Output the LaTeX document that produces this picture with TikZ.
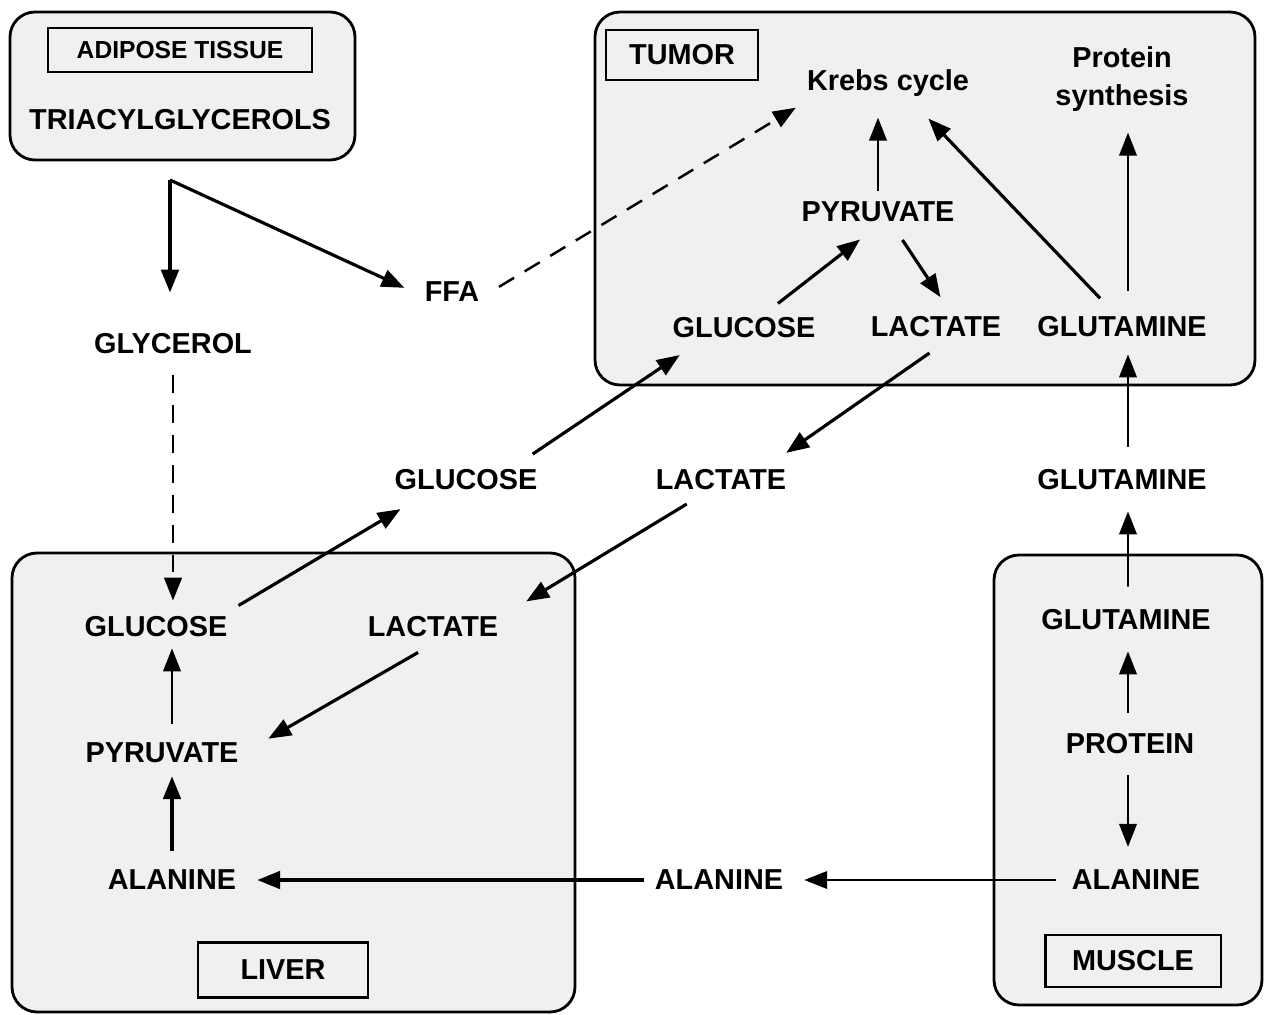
\documentclass[tikz,border=0pt]{standalone}
\usepackage{fontspec}
\setmainfont{Liberation Sans}
\usetikzlibrary{arrows.meta}
\begin{document}
\begin{tikzpicture}[x=0.01cm,y=-0.01cm,
  every node/.style={font=\fontsize{8.2}{10.8}\selectfont\bfseries,inner sep=3pt},
  organ/.style={draw,line width=0.8pt,fill=black!6,rounded corners=0.25cm},
  tag/.style={draw,line width=0.6pt,inner sep=0pt},
  flow/.style={-{Triangle[length=6.5pt,width=5pt]},line width=0.9pt},
  thinflow/.style={flow,line width=0.5pt},
  dashflow/.style={flow,line width=0.7pt,dash pattern=on 5pt off 3.5pt}]
\useasboundingbox (0,0) rectangle (1266,1015);
% organ boxes
\draw[organ] (10,12) rectangle (355,160);
\draw[organ] (595,12) rectangle (1255,385);
\draw[organ] (12,553) rectangle (575,1012);
\draw[organ] (994,555) rectangle (1262,1005);
\node[tag,minimum width=2.63cm,minimum height=0.44cm,font=\fontsize{7}{8}\selectfont\bfseries] (adtag) at (180,50) {ADIPOSE TISSUE};
\node[tag,minimum width=1.52cm,minimum height=0.5cm] (tutag) at (682,55) {TUMOR};
\node[tag,minimum width=1.7cm,minimum height=0.55cm] (litag) at (283,970) {LIVER};
\node[tag,minimum width=1.75cm,minimum height=0.52cm] (mutag) at (1133,961) {MUSCLE};
% metabolites
\node (tri) at (180,120) {TRIACYLGLYCEROLS};
\node (glyc) at (173,344) {GLYCEROL};
\node (ffa) at (452,292) {FFA};
\node (krebs) at (888,83) {Krebs cycle};
\node[align=center] (prot) at (1122,79) {Protein\\synthesis};
\node (tpyr) at (878,212) {PYRUVATE};
\node (tglc) at (744,328) {GLUCOSE};
\node (tlac) at (936,327) {LACTATE};
\node (tglu) at (1122,327) {GLUTAMINE};
\node (fglc) at (466,480) {GLUCOSE};
\node (flac) at (721,480) {LACTATE};
\node (fglu) at (1122,480) {GLUTAMINE};
\node (lglc) at (156,627) {GLUCOSE};
\node (llac) at (433,627) {LACTATE};
\node (lpyr) at (162,753) {PYRUVATE};
\node (lala) at (172,880) {ALANINE};
\node (fala) at (719,880) {ALANINE};
\node (mglu) at (1126,620) {GLUTAMINE};
\node (mprot) at (1130,744) {PROTEIN};
\node (mala) at (1136,880) {ALANINE};
\coordinate (fork) at (170,180);
% adipose
\draw[line width=0.9pt,shorten >=0.3cm,-{Triangle[length=6.5pt,width=5pt]}] (fork) -- (fork |- glyc.north);
\draw[flow,shorten >=0.1cm] (fork) -- (ffa.west);
\draw[dashflow,shorten <=0.1cm,shorten >=0.05cm] (glyc.south) -- (glyc.south |- lglc.north);
\draw[dashflow,shorten <=0.1cm] (ffa.east) -- (krebs.south west);
% tumor
\draw[thinflow,shorten >=0.1cm] (tpyr.north) -- (tpyr.north |- krebs.south);
\draw[flow,shorten <=0.05cm,shorten >=0.1cm] ([xshift=0.3cm]tglc.north) -- ([xshift=-0.1cm]tpyr.south);
\draw[flow,shorten <=0.08cm,shorten >=0.1cm] ([xshift=0.2cm]tpyr.south) -- ([xshift=0.1cm]tlac.north);
\draw[flow,shorten <=0.1cm,shorten >=0.15cm] ([xshift=-0.15cm]tglu.north) -- ([xshift=0.3cm]krebs.south);
\draw[thinflow,shorten <=0.15cm,shorten >=0.1cm] ([xshift=0.06cm]tglu.north) -- ([xshift=0.06cm]tglu.north |- prot.south);
% blood
\draw[flow,shorten <=0.08cm,shorten >=0.1cm] ([xshift=0.6cm]fglc.north) -- ([xshift=-0.56cm]tglc.south);
\draw[flow,shorten <=0.08cm,shorten >=0.1cm] (tlac.south) -- ([xshift=0.57cm]flac.north);
\draw[thinflow,shorten <=0.12cm,shorten >=0.06cm] ([xshift=0.06cm]fglu.north) -- ([xshift=0.06cm]tglu.south);
\draw[thinflow,shorten <=0.12cm,shorten >=0.1cm] ([xshift=0.02cm]mglu.north) -- ([xshift=0.06cm]fglu.south);
\draw[flow,shorten >=0.15cm] (lglc.north east) -- ([xshift=0.3cm]fglc.south west);
\draw[flow,shorten <=0.05cm,shorten >=0.08cm] ([xshift=-0.3cm]flac.south) -- ([xshift=0.1cm]llac.north east);
% liver
\draw[flow,shorten <=0.08cm,shorten >=0.1cm] ([xshift=-0.08cm]llac.south) -- ([xshift=0.1cm,yshift=-0.12cm]lpyr.north east);
\draw[thinflow,shorten <=0.08cm] ([xshift=0.1cm]lpyr.north) -- ([xshift=0.1cm]lpyr.north |- lglc.south);
\draw[flow,shorten <=0.08cm,shorten >=0.02cm] (lala.north) -- (lala.north |- lpyr.south);
\draw[flow,shorten >=0.1cm] (fala.west) -- (lala.east);
\draw[thinflow,shorten <=0.05cm,shorten >=0.1cm] (mala.west) -- (fala.east);
% muscle
\draw[thinflow,shorten <=0.1cm,shorten >=0.1cm] ([xshift=-0.02cm]mprot.north) -- ([xshift=-0.02cm]mprot.north |- mglu.south);
\draw[thinflow,shorten <=0.1cm,shorten >=0.12cm] ([xshift=-0.02cm]mprot.south) -- ([xshift=-0.02cm]mprot.south |- mala.north);
\end{tikzpicture}
\end{document}
